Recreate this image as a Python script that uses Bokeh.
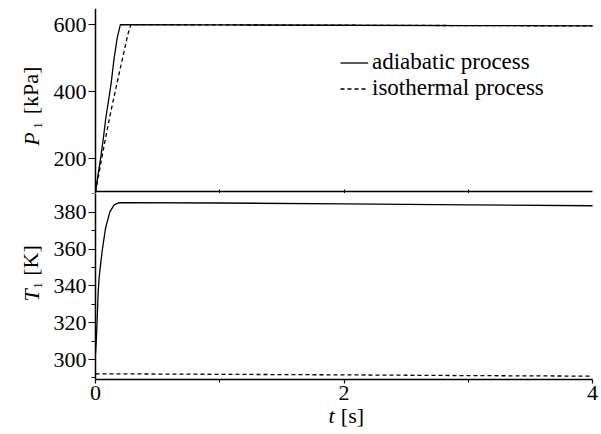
import math
from bokeh.plotting import figure
from bokeh.models import Range1d, FixedTicker, Legend, LegendItem, Label
from bokeh.layouts import column
from bokeh.embed import file_html
from bokeh.resources import INLINE

# ---- data ----
t_p_adiabatic = [0, 0.02, 0.045, 0.065, 0.084, 0.105, 0.126, 0.15, 0.175, 0.20, 1.0, 2.0, 3.0, 4.0]
p_adiabatic = [100, 150, 210, 265, 324, 373, 425, 500, 560, 600, 599, 598, 597, 596]

t_p_isothermal = [0, 0.03, 0.07, 0.115, 0.17, 0.23, 0.26, 0.285, 1.0, 2.0, 3.0, 4.0]
p_isothermal = [100, 160, 240, 325, 420, 520, 570, 600, 599, 598, 597, 596]

t_T_adiabatic = [0, 0.008, 0.015, 0.022, 0.03, 0.045, 0.056, 0.08, 0.115, 0.15, 0.19, 1.0, 2.0, 3.0, 4.0]
T_adiabatic = [303, 312, 325, 337, 345, 354, 360, 371, 380, 384, 385.2, 385.0, 384.5, 384.0, 383.5]

t_T_isothermal = [0, 1.0, 2.0, 3.0, 4.0]
T_isothermal = [292.3, 292.0, 291.7, 291.3, 291.0]

t_ticks = [0, 2, 4]
t_minor = [1, 3]
t_minor_top = [1, 2, 3]
p_ticks = [200, 400, 600]
T_ticks = [300, 320, 340, 360, 380]
T_minor = [290, 310, 330, 350, 370, 390]

T_MIN, T_MAX = 0, 4
P_LO, P_HI = 101.5, 648
TEMP_LO, TEMP_HI = 289.1, 390.15

FONT = "Liberation Serif"
FS = "22px"


def style_axis(ax):
    ax.axis_line_color = "black"
    ax.axis_line_width = 1.5
    ax.major_tick_line_color = "black"
    ax.minor_tick_line_color = "black"
    ax.major_tick_line_width = 1.2
    ax.minor_tick_line_width = 1.0
    ax.major_label_text_font = FONT
    ax.major_label_text_font_size = FS
    ax.major_label_text_color = "black"


def add_text(p, x, y, text, size=FS, italic=False, angle=0.0):
    p.add_layout(Label(x=x, y=y, text=text, angle=angle,
                       text_align="center", text_baseline="middle",
                       text_font=FONT, text_font_size=size,
                       text_font_style="italic" if italic else "normal",
                       text_color="black"))


x_range = Range1d(-0.7, 4.064)

# ---- top panel: pressure ----
top = figure(frame_width=592, frame_height=185,
             x_range=x_range, y_range=Range1d(95.5, 648),
             output_backend="svg", toolbar_location=None,
             min_border_left=8, min_border_right=0,
             min_border_top=8, min_border_bottom=0)
top.grid.visible = False
top.outline_line_color = None
top.background_fill_color = "white"
top.border_fill_color = "white"

r_adi = top.line(t_p_adiabatic, p_adiabatic, line_color="black", line_width=1.3)
r_iso = top.line(t_p_isothermal, p_isothermal, line_color="black", line_width=1.3,
                 line_dash="4 3")

for ax in top.xaxis:
    style_axis(ax)
    ax.ticker = FixedTicker(ticks=[], minor_ticks=t_minor_top)
    ax.fixed_location = P_LO
    ax.bounds = (T_MIN, T_MAX)
    ax.minor_tick_out = 4
    ax.minor_tick_in = 2
for ax in top.yaxis:
    style_axis(ax)
    ax.ticker = FixedTicker(ticks=p_ticks)
    ax.fixed_location = 0
    ax.bounds = (95.5, P_HI)
    ax.major_tick_out = 7
    ax.major_tick_in = 0
    ax.minor_tick_out = 0
    ax.minor_tick_in = 0
    ax.major_label_standoff = 2

legend = Legend(items=[LegendItem(label="adiabatic process", renderers=[r_adi]),
                       LegendItem(label="isothermal process", renderers=[r_iso])],
                location=(332, 92), border_line_color=None, background_fill_alpha=0,
                padding=0, margin=0, spacing=0, glyph_width=28, glyph_height=25,
                label_height=25, label_standoff=4,
                label_text_font=FONT, label_text_font_size="23px",
                label_text_color="black")
top.add_layout(legend)

rot = math.pi / 2
add_text(top, -0.515, 258, "P", italic=True, angle=rot)
add_text(top, -0.463, 298.5, "1", size="12px", angle=rot)
add_text(top, -0.523, 403, "[kPa]", angle=rot)

# ---- bottom panel: temperature ----
bot = figure(frame_width=592, frame_height=237,
             x_range=x_range, y_range=Range1d(261.5, TEMP_HI),
             output_backend="svg", toolbar_location=None,
             min_border_left=8, min_border_right=0,
             min_border_top=0, min_border_bottom=0)
bot.grid.visible = False
bot.outline_line_color = None
bot.background_fill_color = "white"
bot.border_fill_color = "white"

bot.line(t_T_adiabatic, T_adiabatic, line_color="black", line_width=1.3)
bot.line(t_T_isothermal, T_isothermal, line_color="black", line_width=1.3, line_dash="4 3")

for ax in bot.xaxis:
    style_axis(ax)
    ax.ticker = FixedTicker(ticks=t_ticks, minor_ticks=t_minor)
    ax.fixed_location = TEMP_LO
    ax.bounds = (T_MIN, T_MAX)
    ax.major_tick_out = 4
    ax.major_tick_in = 0
    ax.minor_tick_out = 3
    ax.minor_tick_in = 0
    ax.major_label_standoff = 2
for ax in bot.yaxis:
    style_axis(ax)
    ax.ticker = FixedTicker(ticks=T_ticks, minor_ticks=T_minor)
    ax.fixed_location = 0
    ax.bounds = (TEMP_LO, TEMP_HI)
    ax.major_tick_out = 7
    ax.major_tick_in = 0
    ax.minor_tick_out = 4
    ax.minor_tick_in = 0
    ax.major_label_standoff = 2

add_text(bot, -0.515, 334.8, "T", italic=True, angle=rot)
add_text(bot, -0.463, 340.2, "1", size="12px", angle=rot)
add_text(bot, -0.523, 353.8, "[K]", angle=rot)
add_text(bot, 1.899, 269.6, "t", italic=True)
add_text(bot, 2.068, 269.6, "[s]")

layout = column(top, bot, spacing=0)
open("out.html", "w").write(file_html(layout, INLINE))
